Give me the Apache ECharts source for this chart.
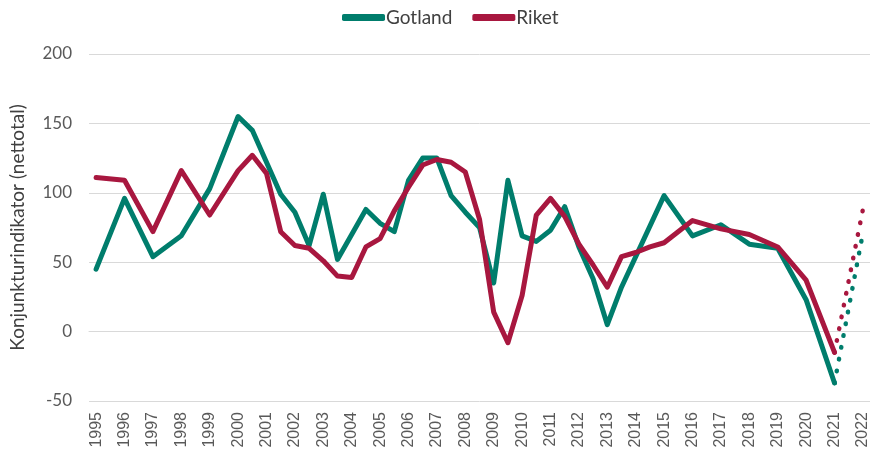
<!DOCTYPE html>
<html>
<head>
<meta charset="utf-8">
<script src="https://cdn.jsdelivr.net/npm/echarts@6/dist/echarts.min.js"></script>
<style>
  html, body { margin: 0; padding: 0; background: #fff; }
  #chart { width: 870px; height: 459px; }
</style>
</head>
<body>
<div id="chart"></div>
<script>
// halvårskategorier 1995 - 2022, bara helår får etikett
const years = []
for (let y = 1995; y <= 2022; y++) {
  years.push(String(y))
  if (y < 2022) years.push(y + ' H2')
}

// Gotland, ett värde per halvår (null = inget mätvärde)
const gotland = [
  45, null, 96, null, 54, null, 69, null, 103, null,
  155, 145, null, 99, 86, 62, 99, 52, null, 88,
  78, 72, 109, 125, 125, 98, 86, 75, 35, 109,
  69, 65, 73, 90, 61, 38, 5, 32, null, null,
  98, null, 69, null, 77, null, 63, null, 60, null,
  23, null, -37, null, null
]

// Riket
const riket = [
  111, null, 109, null, 72, null, 116, null, 84, null,
  116, 127, 114, 72, 62, 60, 51, 40, 39, 61,
  67, 87, 104, 120, 124, 122, 115, 81, 14, -8,
  26, 84, 96, 83, 63, 48, 32, 54, 57, 61,
  64, null, 80, null, 74, null, 70, null, 61, null,
  37, null, -15, null, null
]

// prognos 2021 -> 2022 (prickad linje)
const gotlandPrognos = years.map((_, i) => i === 52 ? -37 : i === 54 ? 71 : null)
const riketPrognos = years.map((_, i) => i === 52 ? -15 : i === 54 ? 88 : null)

const colors = {
  gotland: '#007D6C',
  riket: '#A8173F'
}

const chart = echarts.init(document.getElementById('chart'))

const lineSeries = (name, data, color, dotted) => ({
  name,
  type: 'line',
  data,
  connectNulls: true,
  showSymbol: false,
  symbol: 'none',
  silent: true,
  lineStyle: {
    color,
    width: dotted ? 4.5 : 5,
    type: dotted ? [0.5, 11.5] : 'solid',
    cap: 'round',
    join: 'round'
  },
  itemStyle: { color }
})

chart.setOption({
  animation: false,
  color: [colors.gotland, colors.riket],
  legend: {
    data: ['Gotland', 'Riket'],
    top: 3,
    left: 337,
    icon: 'roundRect',
    itemWidth: 43,
    itemHeight: 7,
    itemGap: 20,
    textStyle: {
      fontFamily: 'Lato',
      fontSize: 19,
      color: '#404040',
      padding: [0, 0, 0, -4]
    }
  },
  grid: {
    left: 89,
    right: 0,
    top: 54,
    bottom: 58,
    outerBoundsMode: 'none'
  },
  xAxis: {
    type: 'category',
    data: years,
    boundaryGap: true,
    axisLine: { lineStyle: { color: '#d9d9d9', width: 1 } },
    axisTick: { show: false },
    axisLabel: {
      interval: 1,
      rotate: 90,
      margin: 11,
      fontFamily: 'Liberation Sans',
      fontSize: 16,
      color: '#595959'
    },
    splitLine: { show: false }
  },
  yAxis: {
    type: 'value',
    min: -50,
    max: 200,
    interval: 50,
    name: 'Konjunkturindikator (nettotal)',
    nameLocation: 'middle',
    nameGap: 62,
    nameTextStyle: {
      fontFamily: 'Lato',
      fontSize: 19,
      color: '#404040'
    },
    axisLine: { show: false },
    axisTick: { show: false },
    axisLabel: {
      margin: 17,
      fontFamily: 'Lato',
      fontSize: 17,
      color: '#595959'
    },
    splitLine: { lineStyle: { color: '#d9d9d9', width: 1 } }
  },
  series: [
    lineSeries('Gotland', gotland, colors.gotland, false),
    lineSeries('Riket', riket, colors.riket, false),
    lineSeries('Gotland prognos', gotlandPrognos, colors.gotland, true),
    lineSeries('Riket prognos', riketPrognos, colors.riket, true)
  ]
})
</script>
</body>
</html>
